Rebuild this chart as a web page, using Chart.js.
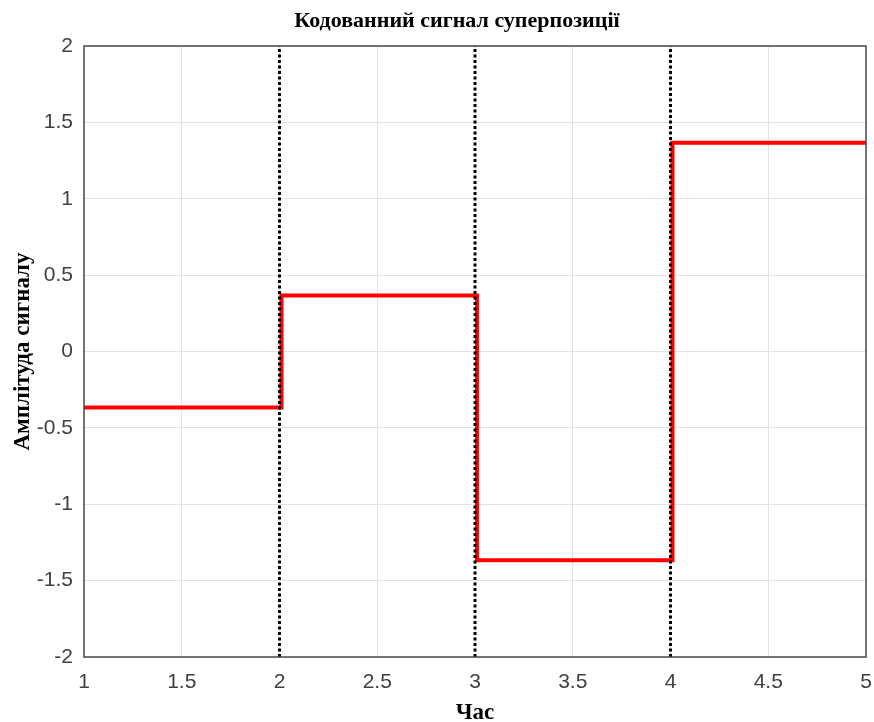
<!DOCTYPE html>
<html>
<head>
<meta charset="utf-8">
<script src="https://cdn.jsdelivr.net/npm/chart.js@4"></script>
<style>
  html, body { margin: 0; padding: 0; background: #fff; }
  #wrap { width: 874px; height: 722px; }
</style>
</head>
<body>
<div id="wrap"><canvas id="c" width="874" height="722"></canvas></div>
<script>
// ---- data ----
const titleText = 'Кодованний сигнал суперпозиції';
const xLabel = 'Час';
const yLabel = 'Амплітуда сигналу';
const stepTimes = [1, 2.01, 3.01, 4.01, 5];
const stepLevels = [-0.366, 0.366, -1.366, 1.366, 1.366];
const boundaryTimes = [2, 3, 4];
const xTicks = [1, 1.5, 2, 2.5, 3, 3.5, 4, 4.5, 5];
const yTicks = [-2, -1.5, -1, -0.5, 0, 0.5, 1, 1.5, 2];

const signalPoints = stepTimes.map((t, i) => ({ x: t, y: stepLevels[i] }));
const datasets = boundaryTimes.map(t => ({
  label: 'boundary ' + t,
  data: [{ x: t, y: -2 }, { x: t, y: 2 }],
  showLine: true,
  borderColor: '#000',
  borderWidth: 3,
  borderDash: [3, 2.5],
  pointRadius: 0,
  order: 1
}));
datasets.push({
  label: 'signal',
  data: signalPoints,
  showLine: true,
  stepped: 'before',
  borderColor: '#ff0000',
  borderWidth: 4,
  pointRadius: 0,
  order: 2
});

const frame = {
  id: 'frame',
  afterLayout(chart) {
    if (chart.titleBlock) { chart.titleBlock.left = 48; chart.titleBlock.right = 866; }
  },
  afterDatasetsDraw(chart) {
    const a = chart.chartArea, ctx = chart.ctx;
    ctx.save();
    ctx.strokeStyle = '#4a4a4a';
    ctx.lineWidth = 1.5;
    ctx.strokeRect(a.left, a.top, a.right - a.left, a.bottom - a.top);
    ctx.restore();
  }
};

const tickFont = { family: 'Liberation Sans, Arial, sans-serif', size: 21 };
const titleFont = { family: 'Liberation Serif, Times New Roman, serif', size: 22, weight: 'bold' };
const axisTitleFont = { family: 'Liberation Serif, Times New Roman, serif', size: 23, weight: 'bold', lineHeight: 1.0 };
const fmt = v => String(v);

new Chart(document.getElementById('c'), {
  type: 'scatter',
  data: { datasets },
  options: {
    responsive: false,
    animation: false,
    layout: { autoPadding: false, padding: { left: 0, right: 8, top: 0, bottom: 0 } },
    plugins: {
      legend: { display: false },
      tooltip: { enabled: false },
      title: {
        display: true,
        text: titleText,
        color: '#000',
        font: titleFont,
        padding: { top: 8, bottom: 11.6 }
      }
    },
    scales: {
      x: {
        type: 'linear',
        min: 1, max: 5,
        afterBuildTicks(s) { s.ticks = xTicks.map(v => ({ value: v })); },
        afterFit(s) { s.height = 65; s.paddingLeft = 0; s.paddingRight = 0; },
        grid: { color: '#e3e3e3', lineWidth: 1, drawTicks: false },
        border: { display: false },
        ticks: { color: '#404040', font: tickFont, padding: 13, maxRotation: 0, callback: fmt },
        title: { display: true, text: xLabel, color: '#000', font: axisTitleFont, padding: { top: 0, bottom: -3 } }
      },
      y: {
        type: 'linear',
        min: -2, max: 2,
        afterBuildTicks(s) { s.ticks = yTicks.map(v => ({ value: v })); },
        afterFit(s) { s.width = 84; s.paddingTop = 0; s.paddingBottom = 0; },
        grid: { color: '#e3e3e3', lineWidth: 1, drawTicks: false },
        border: { display: false },
        ticks: { color: '#404040', font: tickFont, padding: 11, callback: fmt },
        title: { display: true, text: yLabel, color: '#000', font: axisTitleFont, padding: { top: 11.5, bottom: 0 } }
      }
    }
  },
  plugins: [frame]
});
</script>
</body>
</html>
